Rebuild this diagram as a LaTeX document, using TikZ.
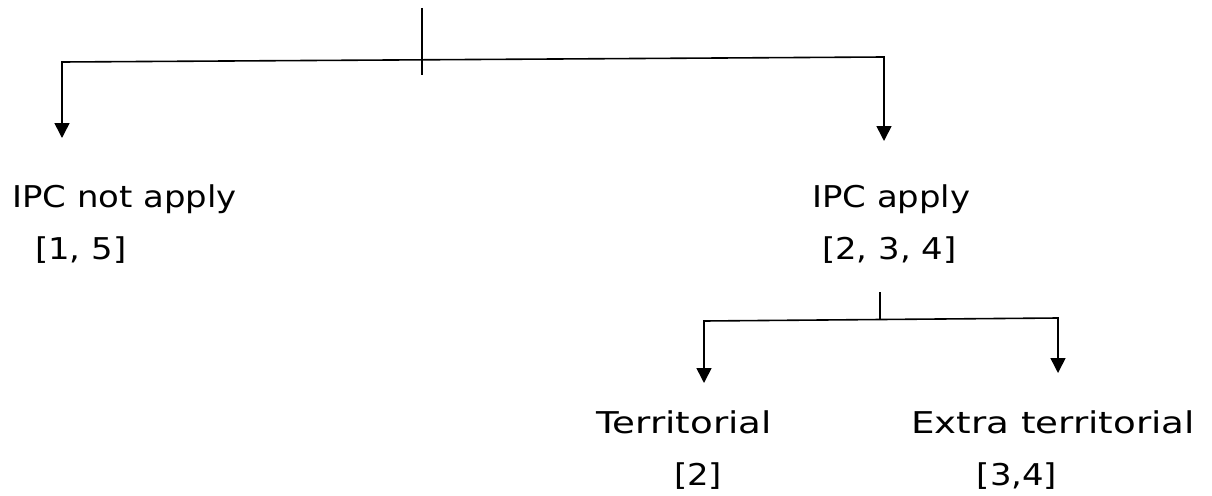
\documentclass[tikz,border=0pt]{standalone}
\usepackage{fontspec}
\setmainfont[FakeStretch=1.13]{DejaVu Sans}
\newfontfamily\widefont[FakeStretch=1.24]{DejaVu Sans}
\usetikzlibrary{arrows.meta}
\begin{document}
\begin{tikzpicture}[x=1pt,y=-1pt,
  >={Triangle[width=15pt,length=15pt]},
  conn/.style={draw, line width=1.6pt, line join=miter},
  lbl/.style={font=\fontsize{30}{36}\selectfont, inner sep=0pt},
  wlbl/.style={font=\widefont\fontsize{30}{36}\selectfont, inner sep=0pt}]
\useasboundingbox (0,0) rectangle (1212,495);
% labels
\node[lbl, anchor=base west] (na1) at (12,207) {IPC not apply};
\node[lbl, anchor=base west] (na2) at (35,259) {[1, 5]};
\node[lbl, anchor=base west] (ap1) at (812,207) {IPC apply};
\node[lbl, anchor=base west] (ap2) at (822,259) {[2, 3, 4]};
\node[wlbl, anchor=base east] (te1) at (772,433) {Territorial};
\node[lbl, anchor=base] (te2) at (698,485) {[2]};
\node[wlbl, anchor=base] (ex1) at (1053,433) {Extra territorial};
\node[lbl, anchor=base] (ex2) at (1017,485) {[3,4]};
% top level
\coordinate (top) at (422,8);
\coordinate (rootb) at (422,75);
\coordinate (lc) at (62,62);
\coordinate (rc) at (884,57);
\coordinate (lt) at (62,138);
\coordinate (rt) at (884,141);
\draw[conn] (top) -- (rootb);
\draw[conn, <->] (lt) -- (lc) -- (rc) -- (rt);
% sub level
\coordinate (st) at (880,292);
\coordinate (sj) at (880,320);
\coordinate (slc) at (704,321);
\coordinate (src) at (1058,318);
\coordinate (slt) at (704,383);
\coordinate (srt) at (1058,373);
\draw[conn] (st) -- (sj);
\draw[conn, <->] (slt) -- (slc) -- (src) -- (srt);
\end{tikzpicture}
\end{document}
